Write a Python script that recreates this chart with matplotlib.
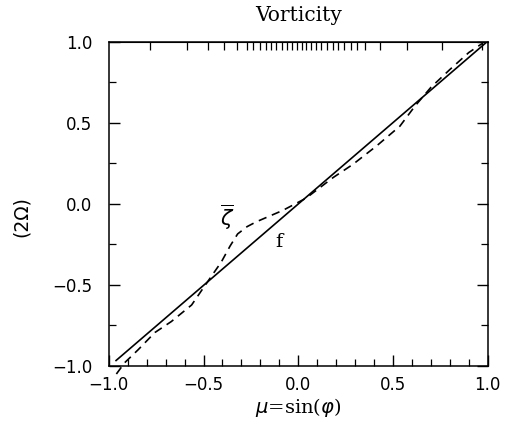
import matplotlib
matplotlib.use("Agg")
import matplotlib.pyplot as plt
from matplotlib.ticker import MultipleLocator, FixedLocator, NullLocator

# Data
mu_f = [-0.965, 0.99]
f_vals = [-0.97, 0.995]

mu_zeta = [-0.96, -0.916, -0.845, -0.757, -0.67, -0.563, -0.502, -0.406, -0.36,
           -0.32, -0.27, -0.221, -0.082, 0.04, 0.184, 0.289, 0.413, 0.536, 0.615,
           0.66, 0.70, 0.80, 0.90, 0.97]
zeta_vals = [-1.05, -0.98, -0.90, -0.794, -0.726, -0.624, -0.52, -0.358, -0.26,
             -0.185, -0.14, -0.11, -0.04, 0.035, 0.163, 0.245, 0.358, 0.48, 0.603,
             0.665, 0.72, 0.83, 0.935, 0.99]

top_ticks = [-0.780, -0.588, -0.478, -0.393, -0.325, -0.272, -0.240, -0.203,
             -0.172, -0.145, -0.119, -0.087, -0.061, -0.034, -0.008, 0.018,
             0.040, 0.066, 0.092, 0.119, 0.150, 0.182, 0.208, 0.240, 0.277,
             0.309, 0.351, 0.430, 0.573, 0.757, 0.968]

title = "Vorticity"
xlabel = r"$\mu$=sin($\varphi$)"
ylabel = "(2Ω)"

fig = plt.figure(figsize=(5.06, 4.24), dpi=100)
ax = fig.add_axes([0.215, 0.137, 0.749, 0.764])

ax.plot(mu_f, f_vals, color="black", lw=1.2, solid_capstyle="butt")
ax.plot(mu_zeta, zeta_vals, color="black", lw=1.2, ls=(0, (5, 3.5)), clip_on=False)

ax.set_xlim(-1, 1)
ax.set_ylim(-1, 1)

tick_font = dict(family="DejaVu Sans", size=12)
ax.xaxis.set_major_locator(MultipleLocator(0.5))
ax.xaxis.set_minor_locator(MultipleLocator(0.1))
ax.yaxis.set_major_locator(MultipleLocator(0.5))
ax.yaxis.set_minor_locator(MultipleLocator(0.25))
ax.set_xticklabels([f"{v:.1f}".replace("-", "\u2212") for v in ax.get_xticks()], **tick_font)
ax.set_yticklabels([f"{v:.1f}".replace("-", "\u2212") for v in ax.get_yticks()], **tick_font)

ax.tick_params(axis="both", which="major", direction="in", length=8, width=1.0,
               top=False, right=True)
ax.tick_params(axis="both", which="minor", direction="in", length=5, width=0.9,
               top=False, right=True)
ax.tick_params(axis="x", which="major", pad=7)
ax.tick_params(axis="y", which="major", pad=12)

# secondary top axis with irregular ticks
top = ax.secondary_xaxis("top")
top.xaxis.set_major_locator(FixedLocator(top_ticks))
top.xaxis.set_minor_locator(NullLocator())
top.tick_params(direction="in", length=6, width=0.9, labeltop=False)

for s in ax.spines.values():
    s.set_linewidth(1.1)

ax.text(-0.375, -0.08, r"$\overline{\zeta}$", fontsize=15, ha="center", va="center",
        family="DejaVu Serif")
ax.text(-0.10, -0.235, "f", fontsize=14, ha="center", va="center", family="DejaVu Serif")

fig.text(0.59, 0.963, title, ha="center", va="center", fontsize=14.5, family="DejaVu Serif")
fig.text(0.59, 0.038, xlabel, ha="center", va="center", fontsize=14, family="DejaVu Serif")
fig.text(0.043, 0.49, ylabel, ha="center", va="center", rotation=90, fontsize=13.5,
         family="DejaVu Sans")

fig.savefig("out.png", dpi=100)
